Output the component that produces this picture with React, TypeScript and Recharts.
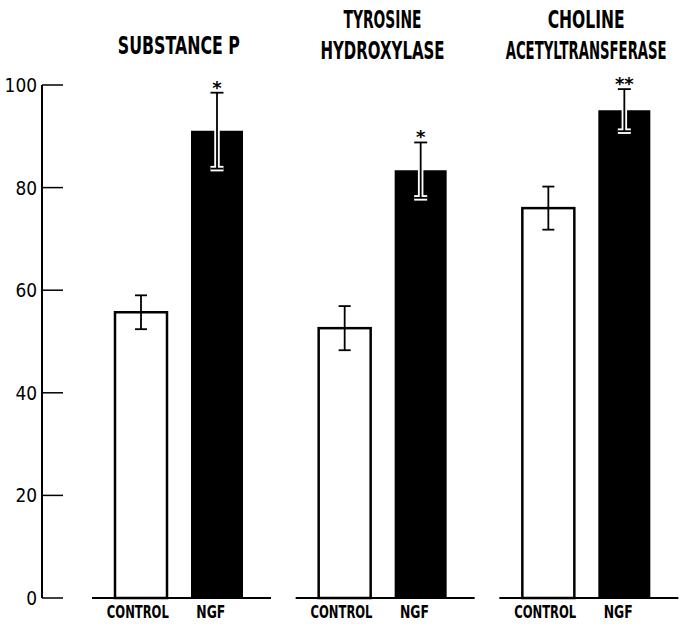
import React from 'react';
import { BarChart, Bar, XAxis, YAxis, ErrorBar, LabelList } from 'recharts';

const groups = ['SUBSTANCE P', 'TYROSINE HYDROXYLASE', 'CHOLINE ACETYLTRANSFERASE'];
const titleLines = [['SUBSTANCE P'], ['TYROSINE', 'HYDROXYLASE'], ['CHOLINE', 'ACETYLTRANSFERASE']];
const seriesLabels = ['CONTROL', 'NGF'];
const controlValues = [55.7, 52.6, 76.0];
const controlErrors = [3.3, 4.3, 4.2];
const ngfValues = [91.1, 83.4, 95.1];
const ngfErrors = [7.4, 5.4, 4.1];
const significance = ['*', '*', '**'];
const yTicks = [0, 20, 40, 60, 80, 100];

const data = groups.map((group, i) => ({
  group,
  control: controlValues[i],
  controlErr: controlErrors[i],
  ngf: ngfValues[i],
  ngfErr: ngfErrors[i],
  sig: significance[i],
}));

const FONT = "'DejaVu Sans', sans-serif";
// printed widths of the condensed lettering (no condensed face installed)
const titleWidths = [[122], [78, 124], [77, 161]];
const labelWidths = [62, 29];

document.body.style.margin = '0';

function NarrowText({ x, y, w, size, children }: any) {
  return (
    <text
      x={x}
      y={y}
      textAnchor="middle"
      textLength={w}
      lengthAdjust="spacingAndGlyphs"
      fontFamily={FONT}
      fontWeight="bold"
      fontSize={size}
      fill="#000"
    >
      {children}
    </text>
  );
}

// white bar with its group's baseline drawn under both bars
function ControlBar(props: any) {
  const { x, y, width, height } = props;
  const base = y + height;
  return (
    <g>
      <line x1={x - 23} x2={x + width * 3} y1={base} y2={base} stroke="#000" strokeWidth={2} />
      <rect x={x} y={y} width={width} height={height} fill="#fff" stroke="#000" strokeWidth={2.5} />
    </g>
  );
}

function YTick({ x, y, payload }: any) {
  return (
    <g>
      <line x1={x} x2={x + 21} y1={y} y2={y} stroke="#000" strokeWidth={1.5} />
      <text
        transform={`translate(${x - 5} ${y + 7}) scale(0.85 1)`}
        textAnchor="end"
        fontFamily={FONT}
        fontSize={20}
        fill="#000"
      >
        {payload.value}
      </text>
    </g>
  );
}

function BottomTick({ x, y }: any) {
  return (
    <g>
      <NarrowText x={x - 41} y={y + 20} w={labelWidths[0]} size={17}>{seriesLabels[0]}</NarrowText>
      <NarrowText x={x + 32} y={y + 20} w={labelWidths[1]} size={17}>{seriesLabels[1]}</NarrowText>
    </g>
  );
}

function TopTick({ x, y, index }: any) {
  const lines = titleLines[index] || [];
  const widths = titleWidths[index] || [];
  const lastBase = lines.length > 1 ? y - 26 : y - 31;
  return (
    <g>
      {lines.map((line, k) => (
        <NarrowText key={k} x={x} y={lastBase - (lines.length - 1 - k) * 31} w={widths[k]} size={24}>
          {line}
        </NarrowText>
      ))}
    </g>
  );
}

function StarLabel(props: any) {
  const vb = props.viewBox || {};
  const x = props.x ?? vb.x;
  const y = props.y ?? vb.y;
  const width = props.width ?? vb.width;
  const height = props.height ?? vb.height;
  const { index, value } = props;
  const k = height / ngfValues[index];
  const top = y - ngfErrors[index] * k;
  return (
    <text x={x + width / 2} y={top + 1} textAnchor="middle" fontFamily={FONT} fontWeight="bold" fontSize={18} fill="#000">
      {value}
    </text>
  );
}

export default function App() {
  return (
    <div style={{ width: 682, height: 624, background: '#fff' }}>
      <BarChart
        width={682}
        height={624}
        data={data}
        margin={{ top: 0, right: 0, left: 0, bottom: 0 }}
        barSize={52}
        barGap={24}
      >
        <XAxis
          xAxisId="top"
          orientation="top"
          dataKey="group"
          height={85}
          padding={{ left: 35, right: -6 }}
          axisLine={false}
          tickLine={false}
          tickSize={0}
          tickMargin={0}
          interval={0}
          tick={<TopTick />}
        />
        <XAxis
          dataKey="group"
          height={26}
          padding={{ left: 35, right: -6 }}
          axisLine={false}
          tickLine={false}
          tickSize={0}
          tickMargin={0}
          interval={0}
          tick={<BottomTick />}
        />
        <YAxis
          width={42}
          domain={[0, 100]}
          ticks={yTicks}
          axisLine={{ stroke: '#000', strokeWidth: 2 }}
          tickLine={false}
          tickSize={0}
          tickMargin={0}
          tick={<YTick />}
        />
        <Bar dataKey="control" shape={<ControlBar />} isAnimationActive={false}>
          <ErrorBar dataKey="controlErr" width={6} stroke="#000" strokeWidth={1.8} />
        </Bar>
        <Bar dataKey="ngf" fill="#000" isAnimationActive={false}>
          <ErrorBar dataKey="ngfErr" width={6.5} stroke="#fff" strokeWidth={5.5} />
          <ErrorBar dataKey="ngfErr" width={6.5} stroke="#000" strokeWidth={1.8} />
          <LabelList dataKey="sig" content={<StarLabel />} />
        </Bar>
      </BarChart>
    </div>
  );
}
